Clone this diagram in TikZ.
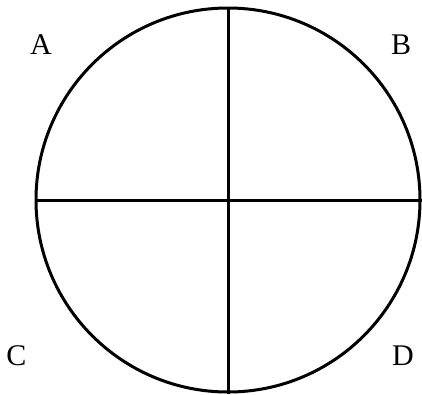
\documentclass[tikz,border=0pt]{standalone}
\usepackage{fontspec}
\setmainfont{Liberation Serif}
\begin{document}
\begin{tikzpicture}[x=1pt,y=-1pt,line width=3pt,
  quad/.style={font=\fontsize{30}{34}\selectfont,inner sep=0pt}]
  \useasboundingbox (0,0) rectangle (422,394);
  % Circle and cross
  \node[circle,draw,minimum size=384pt,inner sep=0pt,line width=3pt] (disc) at (228,200) {};
  \draw (disc.north) -- (disc.south);
  \draw (disc.west) -- (disc.east);
  % Quadrant labels
  \node[quad] (lA) at (41,45) {A};
  \node[quad] (lB) at (401,45) {B};
  \node[quad] (lC) at (16.5,356) {C};
  \node[quad] (lD) at (403,356) {D};
\end{tikzpicture}
\end{document}
